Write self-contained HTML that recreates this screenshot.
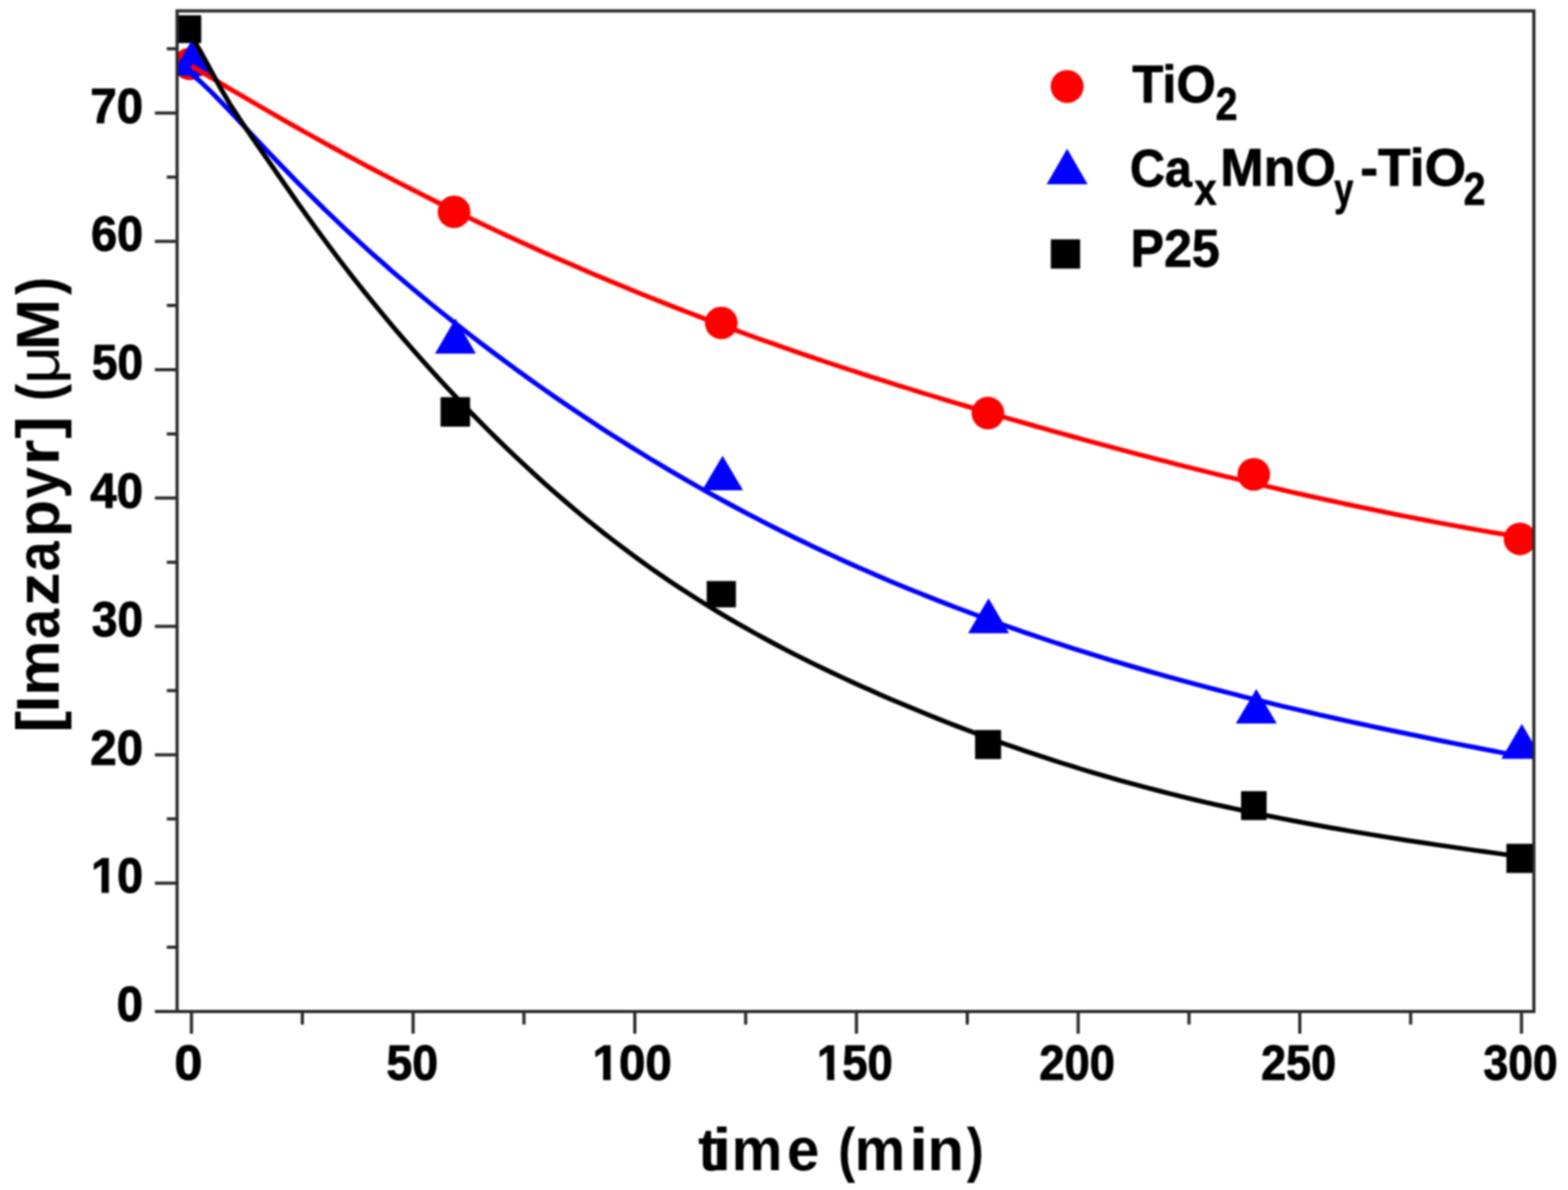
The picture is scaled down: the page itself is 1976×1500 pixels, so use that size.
<!DOCTYPE html>
<html><head><meta charset="utf-8"><title>Imazapyr degradation</title>
<style>html,body{margin:0;padding:0;background:#fff;overflow:hidden}svg{display:block;filter:blur(1px)}</style>
</head><body>
<svg width="1976" height="1500" viewBox="0 0 1976 1500">
<rect width="1976" height="1500" fill="#fff"/>
<defs><clipPath id="pc"><rect x="223.2" y="13.7" width="1709.8" height="1261.3"/></clipPath></defs>
<g id="gfx">
<g clip-path="url(#pc)">
<rect x="216.6" y="19.3" width="37.0" height="35.0" fill="#000"/>
<rect x="555.2" y="500.6" width="37.2" height="37.2" fill="#000"/>
<rect x="890.6" y="732.4" width="36.8" height="33.2" fill="#000"/>
<rect x="1228.8" y="920.2" width="32.8" height="36.6" fill="#000"/>
<rect x="1564" y="997.3" width="32.2" height="36.4" fill="#000"/>
<rect x="1898.4" y="1063.6" width="37.0" height="36.8" fill="#000"/>
<circle cx="239" cy="80.5" r="20.6" fill="#f00"/>
<circle cx="572.2" cy="267" r="20.6" fill="#f00"/>
<circle cx="909" cy="407" r="20.6" fill="#f00"/>
<circle cx="1245" cy="520.7" r="20.6" fill="#f00"/>
<circle cx="1580" cy="597.9" r="20.6" fill="#f00"/>
<circle cx="1915.5" cy="679.3" r="20.6" fill="#f00"/>
<path d="M241.2 51.6L267.0 95.6L215.4 95.6Z" fill="#00f"/>
<path d="M574 401.5L599.8 445.7L548.2 445.7Z" fill="#00f"/>
<path d="M910.6 574.4L936.4 618L884.8 618Z" fill="#00f"/>
<path d="M1245.8 754L1271.6 798.2L1220.0 798.2Z" fill="#00f"/>
<path d="M1583.2 868.5L1609.0 912L1557.4 912Z" fill="#00f"/>
<path d="M1917.8 912.6L1943.6 956.5L1892.0 956.5Z" fill="#00f"/>
<path d="M241.3 83.1L253.4 90.3L265.4 97.5L277.5 104.7L289.5 111.8L301.6 118.9L313.7 126.0L325.7 133.0L337.8 140.0L349.8 146.9L361.9 153.8L373.9 160.7L386.0 167.5L398.1 174.2L410.1 180.9L422.2 187.5L434.2 194.1L446.3 200.6L458.4 207.1L470.4 213.5L482.5 219.8L494.5 226.1L506.6 232.3L518.7 238.5L530.7 244.6L542.8 250.7L554.8 256.7L566.9 262.6L579.0 268.5L591.0 274.4L603.1 280.2L615.1 285.9L627.2 291.6L639.2 297.2L651.3 302.8L663.4 308.3L675.4 313.8L687.5 319.2L699.5 324.5L711.6 329.8L723.7 335.1L735.7 340.3L747.8 345.4L759.8 350.5L771.9 355.6L784.0 360.6L796.0 365.6L808.1 370.5L820.1 375.3L832.2 380.1L844.2 384.9L856.3 389.6L868.4 394.3L880.4 398.9L892.5 403.5L904.5 408.0L916.6 412.5L928.7 416.9L940.7 421.3L952.8 425.7L964.8 430.0L976.9 434.2L989.0 438.5L1001.0 442.6L1013.1 446.8L1025.1 450.9L1037.2 455.0L1049.3 459.0L1061.3 463.0L1073.4 467.0L1085.4 470.9L1097.5 474.8L1109.5 478.6L1121.6 482.5L1133.7 486.3L1145.7 490.0L1157.8 493.8L1169.8 497.5L1181.9 501.1L1194.0 504.8L1206.0 508.4L1218.1 512.0L1230.1 515.6L1242.2 519.1L1254.3 522.6L1266.3 526.1L1278.4 529.6L1290.4 533.0L1302.5 536.5L1314.6 539.9L1326.6 543.3L1338.7 546.6L1350.7 550.0L1362.8 553.3L1374.8 556.6L1386.9 559.9L1399.0 563.1L1411.0 566.4L1423.1 569.6L1435.1 572.8L1447.2 575.9L1459.3 579.1L1471.3 582.2L1483.4 585.3L1495.4 588.3L1507.5 591.4L1519.6 594.4L1531.6 597.4L1543.7 600.3L1555.7 603.2L1567.8 606.1L1579.8 609.0L1591.9 611.9L1604.0 614.7L1616.0 617.5L1628.1 620.3L1640.1 623.0L1652.2 625.7L1664.3 628.4L1676.3 631.0L1688.4 633.6L1700.4 636.2L1712.5 638.8L1724.6 641.3L1736.6 643.8L1748.7 646.3L1760.7 648.7L1772.8 651.1L1784.9 653.5L1796.9 655.8L1809.0 658.1L1821.0 660.4L1833.1 662.6L1845.1 664.8L1857.2 667.0L1869.3 669.1L1881.3 671.2L1893.4 673.3L1905.4 675.3L1917.5 677.3" fill="none" stroke="#f00" stroke-width="6.0" stroke-linejoin="round"/>
<path d="M241.3 93.3L253.4 103.6L265.4 115.1L277.5 127.3L289.5 139.9L301.6 152.8L313.7 165.7L325.7 178.5L337.8 191.3L349.8 203.9L361.9 216.4L373.9 228.8L386.0 241.0L398.1 253.0L410.1 264.8L422.2 276.4L434.2 287.8L446.3 299.0L458.4 310.1L470.4 320.9L482.5 331.6L494.5 342.2L506.6 352.5L518.7 362.7L530.7 372.8L542.8 382.7L554.8 392.5L566.9 402.1L579.0 411.6L591.0 421.0L603.1 430.3L615.1 439.5L627.2 448.5L639.2 457.4L651.3 466.3L663.4 475.0L675.4 483.6L687.5 492.1L699.5 500.5L711.6 508.8L723.7 517.0L735.7 525.0L747.8 533.0L759.8 540.9L771.9 548.7L784.0 556.3L796.0 563.9L808.1 571.3L820.1 578.7L832.2 585.9L844.2 593.1L856.3 600.2L868.4 607.1L880.4 614.0L892.5 620.8L904.5 627.4L916.6 634.0L928.7 640.5L940.7 646.9L952.8 653.2L964.8 659.4L976.9 665.5L989.0 671.5L1001.0 677.5L1013.1 683.3L1025.1 689.1L1037.2 694.8L1049.3 700.4L1061.3 705.9L1073.4 711.4L1085.4 716.7L1097.5 722.0L1109.5 727.2L1121.6 732.4L1133.7 737.4L1145.7 742.4L1157.8 747.3L1169.8 752.1L1181.9 756.9L1194.0 761.6L1206.0 766.2L1218.1 770.8L1230.1 775.3L1242.2 779.7L1254.3 784.1L1266.3 788.4L1278.4 792.6L1290.4 796.8L1302.5 800.9L1314.6 805.0L1326.6 809.0L1338.7 812.9L1350.7 816.8L1362.8 820.6L1374.8 824.4L1386.9 828.1L1399.0 831.8L1411.0 835.4L1423.1 839.0L1435.1 842.5L1447.2 846.0L1459.3 849.4L1471.3 852.8L1483.4 856.1L1495.4 859.4L1507.5 862.7L1519.6 865.9L1531.6 869.0L1543.7 872.2L1555.7 875.2L1567.8 878.3L1579.8 881.3L1591.9 884.2L1604.0 887.2L1616.0 890.1L1628.1 892.9L1640.1 895.7L1652.2 898.5L1664.3 901.3L1676.3 904.0L1688.4 906.7L1700.4 909.4L1712.5 912.0L1724.6 914.6L1736.6 917.2L1748.7 919.8L1760.7 922.3L1772.8 924.8L1784.9 927.3L1796.9 929.8L1809.0 932.2L1821.0 934.7L1833.1 937.1L1845.1 939.5L1857.2 941.8L1869.3 944.2L1881.3 946.5L1893.4 948.9L1905.4 951.2L1917.5 953.5" fill="none" stroke="#00f" stroke-width="6.0" stroke-linejoin="round"/>
<path d="M241.3 46.0L253.4 66.1L265.4 88.1L277.5 110.3L289.5 130.8L301.6 149.5L313.7 167.3L325.7 184.7L337.8 202.1L349.8 219.5L361.9 236.8L373.9 254.0L386.0 271.0L398.1 287.7L410.1 304.1L422.2 320.2L434.2 336.0L446.3 351.6L458.4 366.8L470.4 381.7L482.5 396.4L494.5 410.8L506.6 425.0L518.7 438.9L530.7 452.6L542.8 466.0L554.8 479.2L566.9 492.2L579.0 505.0L591.0 517.6L603.1 529.9L615.1 542.0L627.2 554.0L639.2 565.7L651.3 577.2L663.4 588.4L675.4 599.5L687.5 610.4L699.5 621.0L711.6 631.4L723.7 641.7L735.7 651.7L747.8 661.5L759.8 671.1L771.9 680.5L784.0 689.7L796.0 698.7L808.1 707.5L820.1 716.1L832.2 724.5L844.2 732.7L856.3 740.8L868.4 748.6L880.4 756.3L892.5 763.8L904.5 771.1L916.6 778.3L928.7 785.3L940.7 792.2L952.8 799.0L964.8 805.5L976.9 812.0L989.0 818.3L1001.0 824.6L1013.1 830.6L1025.1 836.6L1037.2 842.5L1049.3 848.2L1061.3 853.9L1073.4 859.5L1085.4 864.9L1097.5 870.3L1109.5 875.7L1121.6 880.9L1133.7 886.0L1145.7 891.1L1157.8 896.1L1169.8 901.0L1181.9 905.9L1194.0 910.7L1206.0 915.4L1218.1 920.0L1230.1 924.5L1242.2 929.0L1254.3 933.4L1266.3 937.7L1278.4 941.9L1290.4 946.1L1302.5 950.1L1314.6 954.2L1326.6 958.1L1338.7 962.0L1350.7 965.7L1362.8 969.5L1374.8 973.1L1386.9 976.7L1399.0 980.2L1411.0 983.6L1423.1 986.9L1435.1 990.2L1447.2 993.4L1459.3 996.5L1471.3 999.6L1483.4 1002.6L1495.4 1005.6L1507.5 1008.5L1519.6 1011.3L1531.6 1014.1L1543.7 1016.8L1555.7 1019.4L1567.8 1022.0L1579.8 1024.6L1591.9 1027.1L1604.0 1029.5L1616.0 1031.9L1628.1 1034.2L1640.1 1036.5L1652.2 1038.8L1664.3 1041.0L1676.3 1043.2L1688.4 1045.3L1700.4 1047.4L1712.5 1049.4L1724.6 1051.4L1736.6 1053.4L1748.7 1055.4L1760.7 1057.3L1772.8 1059.2L1784.9 1061.0L1796.9 1062.8L1809.0 1064.6L1821.0 1066.4L1833.1 1068.1L1845.1 1069.9L1857.2 1071.6L1869.3 1073.3L1881.3 1074.9L1893.4 1076.6L1905.4 1078.2L1917.5 1079.8" fill="none" stroke="#000" stroke-width="6.0" stroke-linejoin="round"/>
</g>
<path d="M223.2 13.7H1933.0V1275.0H223.2Z" fill="none" stroke="#2b2b2b" stroke-width="4.0" stroke-linejoin="miter"/>
<path d="M195.2 1275.0H223.2M195.2 1113.2H223.2M195.2 951.4H223.2M195.2 789.6H223.2M195.2 627.8H223.2M195.2 466.0H223.2M195.2 304.2H223.2M195.2 142.4H223.2M210.2 1194.1H223.2M210.2 1032.3H223.2M210.2 870.5H223.2M210.2 708.7H223.2M210.2 546.9H223.2M210.2 385.1H223.2M210.2 223.3H223.2M210.2 61.5H223.2M241.3 1275.0V1303.0M520.6 1275.0V1303.0M800.0 1275.0V1303.0M1079.3 1275.0V1303.0M1358.7 1275.0V1303.0M1638.0 1275.0V1303.0M1917.4 1275.0V1303.0M381.0 1275.0V1291.5M660.3 1275.0V1291.5M939.7 1275.0V1291.5M1219.0 1275.0V1291.5M1498.4 1275.0V1291.5M1777.7 1275.0V1291.5" fill="none" stroke="#2b2b2b" stroke-width="4.0"/>
<circle cx="1344.8" cy="109" r="20.75" fill="#f00"/>
<path d="M1344.8 187.5L1370.6 232.2L1319 232.2Z" fill="#00f"/>
<rect x="1324.3" y="301.7" width="36.9" height="36.9" fill="#000"/>
</g>
<g font-family="'Liberation Sans', Arial, Helvetica, sans-serif" font-weight="bold" fill="#000">
<text id="y0" class="t" stroke="#000" stroke-width="1.2" stroke-linejoin="round" x="180.40" y="1287.20" text-anchor="end" font-size="63.50" textLength="33.33" lengthAdjust="spacingAndGlyphs">0</text>
<text id="y10" class="t" stroke="#000" stroke-width="1.2" stroke-linejoin="round" clip-path="url(#c_y10)" x="180.40" y="1125.40" text-anchor="end" font-size="63.50" textLength="65.64" lengthAdjust="spacingAndGlyphs">10</text>
<text id="y20" class="t" stroke="#000" stroke-width="1.2" stroke-linejoin="round" x="180.40" y="963.60" text-anchor="end" font-size="63.50" textLength="66.64" lengthAdjust="spacingAndGlyphs">20</text>
<text id="y30" class="t" stroke="#000" stroke-width="1.2" stroke-linejoin="round" x="180.40" y="801.80" text-anchor="end" font-size="63.50" textLength="64.64" lengthAdjust="spacingAndGlyphs">30</text>
<text id="y40" class="t" stroke="#000" stroke-width="1.2" stroke-linejoin="round" x="180.40" y="640.00" text-anchor="end" font-size="63.50" textLength="66.64" lengthAdjust="spacingAndGlyphs">40</text>
<text id="y50" class="t" stroke="#000" stroke-width="1.2" stroke-linejoin="round" x="180.40" y="478.20" text-anchor="end" font-size="63.50" textLength="64.64" lengthAdjust="spacingAndGlyphs">50</text>
<text id="y60" class="t" stroke="#000" stroke-width="1.2" stroke-linejoin="round" x="180.40" y="316.40" text-anchor="end" font-size="63.50" textLength="65.64" lengthAdjust="spacingAndGlyphs">60</text>
<text id="y70" class="t" stroke="#000" stroke-width="1.2" stroke-linejoin="round" x="180.40" y="154.60" text-anchor="end" font-size="63.50" textLength="66.64" lengthAdjust="spacingAndGlyphs">70</text>
<text id="x0" class="t" stroke="#000" stroke-width="1.2" stroke-linejoin="round" x="237.50" y="1360.80" text-anchor="middle" font-size="63.50" textLength="35.33" lengthAdjust="spacingAndGlyphs">0</text>
<text id="x50" class="t" stroke="#000" stroke-width="1.2" stroke-linejoin="round" x="519.60" y="1360.80" text-anchor="middle" font-size="63.50" textLength="65.14" lengthAdjust="spacingAndGlyphs">50</text>
<text id="x100" class="t" stroke="#000" stroke-width="1.2" stroke-linejoin="round" clip-path="url(#c_x100)" x="796.70" y="1360.80" text-anchor="middle" font-size="63.50" textLength="99.95" lengthAdjust="spacingAndGlyphs">100</text>
<text id="x150" class="t" stroke="#000" stroke-width="1.2" stroke-linejoin="round" clip-path="url(#c_x150)" x="1077.30" y="1360.80" text-anchor="middle" font-size="63.50" textLength="95.45" lengthAdjust="spacingAndGlyphs">150</text>
<text id="x200" class="t" stroke="#000" stroke-width="1.2" stroke-linejoin="round" x="1357.40" y="1360.80" text-anchor="middle" font-size="63.50" textLength="95.45" lengthAdjust="spacingAndGlyphs">200</text>
<text id="x250" class="t" stroke="#000" stroke-width="1.2" stroke-linejoin="round" x="1636.50" y="1360.80" text-anchor="middle" font-size="63.50" textLength="94.45" lengthAdjust="spacingAndGlyphs">250</text>
<text id="x300" class="t" stroke="#000" stroke-width="1.2" stroke-linejoin="round" x="1916.30" y="1360.80" text-anchor="middle" font-size="63.50" textLength="93.45" lengthAdjust="spacingAndGlyphs">300</text>
<text id="l1a" class="t" stroke="#000" stroke-width="1.0" stroke-linejoin="round" x="1427.00" y="128.60" font-size="66.50" textLength="105.12" lengthAdjust="spacingAndGlyphs">TiO</text>
<text id="l1b" class="t" stroke="#000" stroke-width="1.0" stroke-linejoin="round" x="1532.00" y="150.60" font-size="56.50" textLength="27.44" lengthAdjust="spacingAndGlyphs">2</text>
<text id="l2a" class="t" stroke="#000" stroke-width="1.0" stroke-linejoin="round" x="1424.00" y="234.70" font-size="66.50" textLength="78.02" lengthAdjust="spacingAndGlyphs">Ca</text>
<text id="l2b" class="t" stroke="#000" stroke-width="1.0" stroke-linejoin="round" x="1505.20" y="258.00" font-size="56.50" textLength="27.94" lengthAdjust="spacingAndGlyphs">x</text>
<text id="l2c" class="t" stroke="#000" stroke-width="1.0" stroke-linejoin="round" x="1537.80" y="233.70" font-size="66.50" textLength="145.75" lengthAdjust="spacingAndGlyphs">MnO</text>
<text id="l2d" class="t" stroke="#000" stroke-width="1.0" stroke-linejoin="round" x="1681.60" y="257.50" font-size="56.50" textLength="23.94" lengthAdjust="spacingAndGlyphs">y</text>
<text id="l2e" class="t" stroke="#000" stroke-width="1.0" stroke-linejoin="round" x="1714.20" y="233.70" font-size="66.50" textLength="133.28" lengthAdjust="spacingAndGlyphs">-TiO</text>
<text id="l2f" class="t" stroke="#000" stroke-width="1.0" stroke-linejoin="round" x="1844.60" y="258.40" font-size="56.50" textLength="27.44" lengthAdjust="spacingAndGlyphs">2</text>
<text id="l3a" class="t" stroke="#000" stroke-width="1.0" stroke-linejoin="round" x="1424.80" y="336.40" font-size="66.50" textLength="112.33" lengthAdjust="spacingAndGlyphs">P25</text>
<text class="tt" y="1475" font-size="76"><tspan x="879.70">t</tspan><tspan x="897.50" textLength="24.28" lengthAdjust="spacingAndGlyphs">i</tspan><tspan x="922.06" textLength="63.89" lengthAdjust="spacingAndGlyphs">m</tspan><tspan x="991.74" textLength="40.77" lengthAdjust="spacingAndGlyphs">e</tspan><tspan x="1056.17" textLength="21.51" lengthAdjust="spacingAndGlyphs">(</tspan><tspan x="1076.97" textLength="63.78" lengthAdjust="spacingAndGlyphs">m</tspan><tspan x="1145.45" textLength="24.28" lengthAdjust="spacingAndGlyphs">i</tspan><tspan x="1168.83" textLength="46.04" lengthAdjust="spacingAndGlyphs">n</tspan><tspan x="1218.22" textLength="21.51" lengthAdjust="spacingAndGlyphs">)</tspan></text>
<text class="tt" transform="translate(74 0) rotate(-90)" y="0" font-size="76"><tspan x="-923.67" textLength="27.68" lengthAdjust="spacingAndGlyphs">[</tspan><tspan x="-898.11">I</tspan><tspan x="-877.20" textLength="70.08" lengthAdjust="spacingAndGlyphs">m</tspan><tspan x="-805.28" textLength="37.55" lengthAdjust="spacingAndGlyphs">a</tspan><tspan x="-764.10" textLength="42.47" lengthAdjust="spacingAndGlyphs">z</tspan><tspan x="-719.98" textLength="37.55" lengthAdjust="spacingAndGlyphs">a</tspan><tspan x="-677.06" textLength="46.91" lengthAdjust="spacingAndGlyphs">p</tspan><tspan x="-628.56" textLength="39.64" lengthAdjust="spacingAndGlyphs">y</tspan><tspan x="-586.86" textLength="32.84" lengthAdjust="spacingAndGlyphs">r</tspan><tspan x="-553.05" textLength="28.56" lengthAdjust="spacingAndGlyphs">]</tspan><tspan x="-505.48" textLength="21.51" lengthAdjust="spacingAndGlyphs">(</tspan><tspan x="-483.92" font-weight="normal" textLength="48.02" lengthAdjust="spacingAndGlyphs">μ</tspan><tspan x="-441.60" textLength="64.81" lengthAdjust="spacingAndGlyphs">M</tspan><tspan x="-371.77" textLength="22.65" lengthAdjust="spacingAndGlyphs">)</tspan></text>
<defs><clipPath id="c_y10"><path d="M94.76 1045.40H514.76V1116.82H94.76ZM127.93 1115.92H137.23V1135.40H127.93ZM147.61 1045.40H514.76V1145.40H147.61Z"/></clipPath><clipPath id="c_x100"><path d="M726.72 1280.80H1146.72V1352.22H726.72ZM760.11 1351.32H769.53V1370.80H760.11ZM780.07 1280.80H1146.72V1380.80H780.07Z"/></clipPath><clipPath id="c_x150"><path d="M1009.57 1280.80H1429.57V1352.22H1009.57ZM1042.33 1351.32H1051.38V1370.80H1042.33ZM1061.42 1280.80H1429.57V1380.80H1061.42Z"/></clipPath></defs>
</g>
</svg>
</body></html>
